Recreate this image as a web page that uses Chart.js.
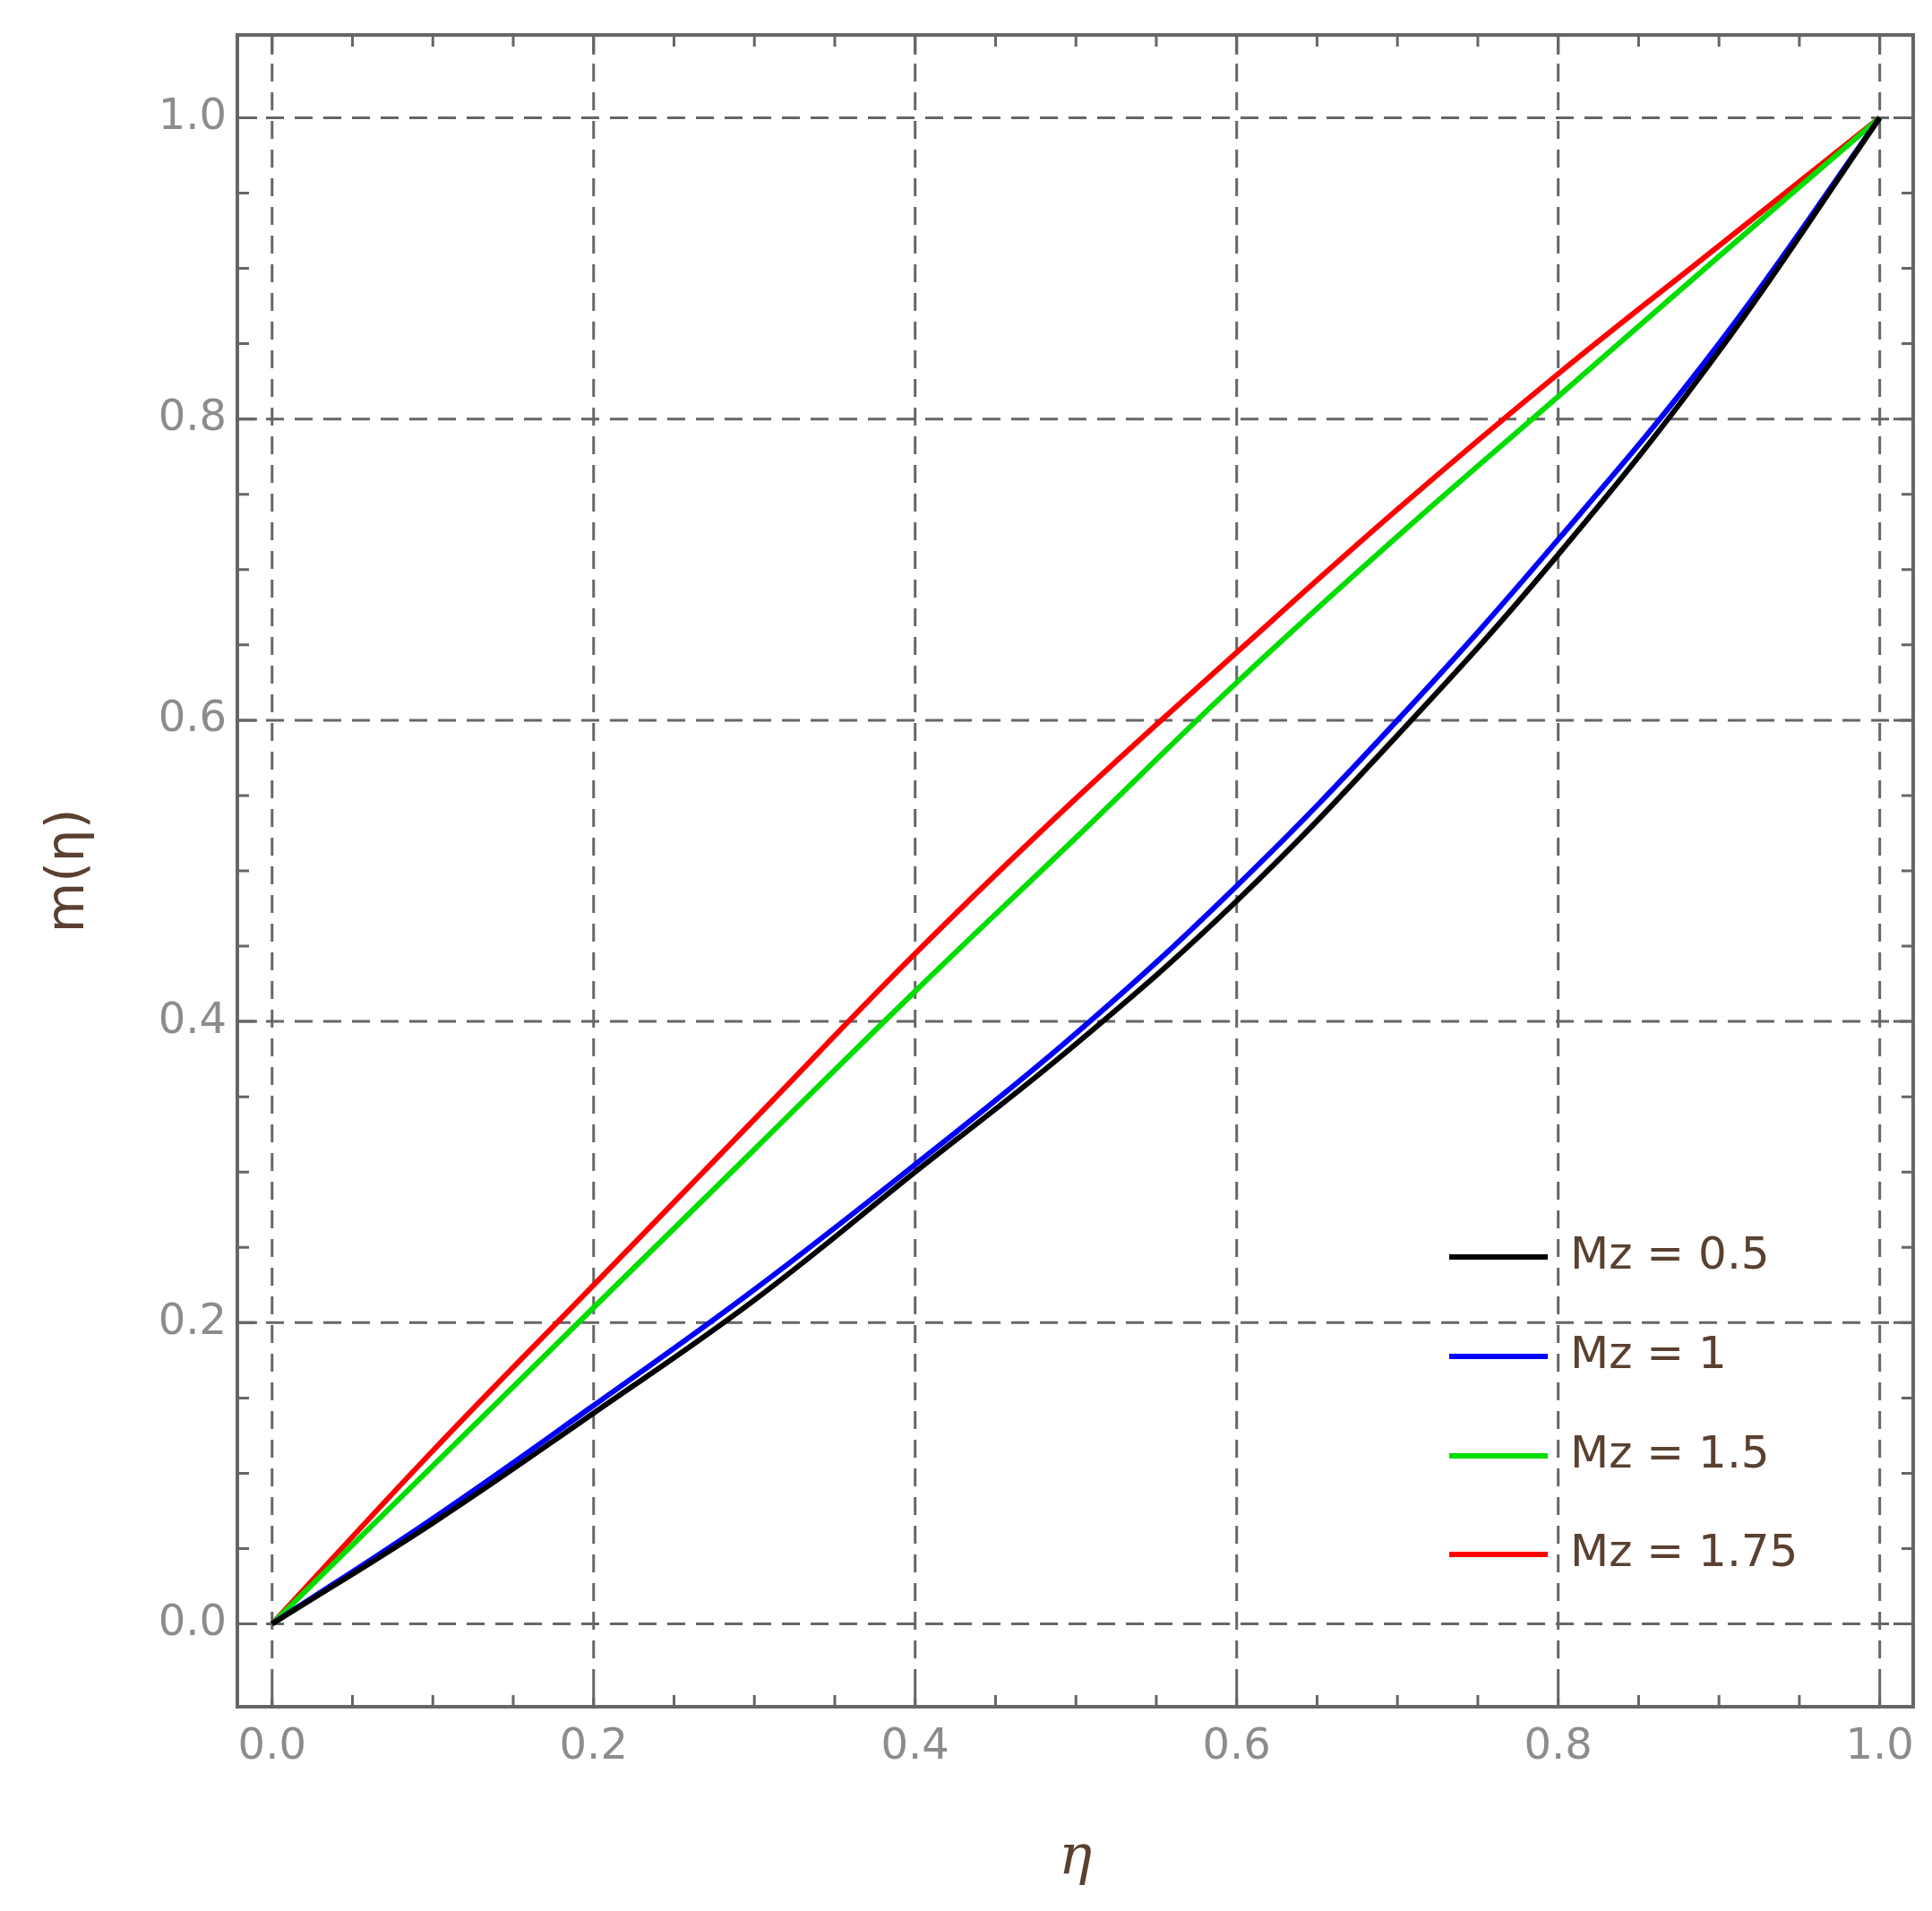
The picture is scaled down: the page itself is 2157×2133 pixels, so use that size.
<!DOCTYPE html>
<html><head><meta charset="utf-8">
<script src="https://cdn.jsdelivr.net/npm/chart.js@4"></script>
<style>html,body{margin:0;background:#fff}#c{display:block}</style>
</head><body>
<canvas id="c" width="2157" height="2133"></canvas>
<script>
const etaValues = [0,0.1,0.2,0.3,0.4,0.5,0.6,0.7,0.8,0.9,1.0];
const mz05 = [0,0.067,0.140,0.215,0.300,0.385,0.480,0.590,0.710,0.845,1.0];
const mz1  = [0,0.070,0.145,0.222,0.305,0.392,0.490,0.600,0.720,0.850,1.0];
const mz15 = [0,0.105,0.210,0.315,0.420,0.522,0.625,0.722,0.815,0.908,1.0];
const mz175= [0,0.115,0.225,0.335,0.445,0.548,0.645,0.740,0.830,0.915,1.0];
const seriesLabels = ['Mz = 0.5','Mz = 1','Mz = 1.5','Mz = 1.75'];
const seriesColors = ['#000000','#0000ff','#00dd00','#ff0000'];
const tickLabels = ['0.0','0.2','0.4','0.6','0.8','1.0'];
const tickValues = [0,0.2,0.4,0.6,0.8,1.0];

const all=[mz05,mz1,mz15,mz175];
const datasets = all.map((s,i)=>({label:seriesLabels[i],data:etaValues.map((x,j)=>({x,y:s[j]})),
  borderColor:seriesColors[i],borderWidth:6,pointRadius:0,tension:0.4,fill:false}));

const deco={id:'deco',
 beforeDatasetsDraw(ch){
  const c=ch.ctx,a=ch.chartArea,xs=ch.scales.x,ys=ch.scales.y;
  c.save();
  c.strokeStyle='#666';c.lineWidth=3;c.setLineDash([20,12]);
  tickValues.forEach(v=>{const px=xs.getPixelForValue(v);c.beginPath();c.moveTo(px,a.top);c.lineTo(px,a.bottom);c.stroke();
   const py=ys.getPixelForValue(v);c.beginPath();c.moveTo(a.left,py);c.lineTo(a.right,py);c.stroke();});
  c.setLineDash([]);
  for(let k=0;k<=20;k++){const v=k*0.05,len=(k%4===0)?22:13;
   const px=xs.getPixelForValue(v),py=ys.getPixelForValue(v);
   c.beginPath();c.moveTo(px,a.bottom);c.lineTo(px,a.bottom-len);c.moveTo(px,a.top);c.lineTo(px,a.top+len);
   c.moveTo(a.left,py);c.lineTo(a.left+len,py);c.moveTo(a.right,py);c.lineTo(a.right-len,py);c.stroke();}
  c.lineWidth=4;c.strokeRect(a.left,a.top,a.right-a.left,a.bottom-a.top);
  c.fillStyle='#8c8c8c';c.font='48px "DejaVu Sans"';
  c.textAlign='center';c.textBaseline='top';
  tickValues.forEach((v,i)=>c.fillText(tickLabels[i],xs.getPixelForValue(v),a.bottom+22));
  c.textAlign='right';c.textBaseline='middle';
  tickValues.forEach((v,i)=>c.fillText(tickLabels[i],a.left-12,ys.getPixelForValue(v)));
  c.fillStyle='#5a4030';c.font='italic 62px "DejaVu Serif"';c.textAlign='center';c.textBaseline='middle';
  c.fillText('η',(a.left+a.right)/2,2075);
  c.save();c.translate(78,(a.top+a.bottom)/2);c.rotate(-Math.PI/2);c.font='58px "DejaVu Sans"';c.fillText('m(η)',0,0);c.restore();
  c.restore();
 },
 afterDatasetsDraw(ch){
  const c=ch.ctx;c.save();
  const ys=[1403,1514,1625,1735];
  seriesLabels.forEach((l,i)=>{c.strokeStyle=seriesColors[i];c.lineWidth=6;c.beginPath();c.moveTo(1618,ys[i]);c.lineTo(1728,ys[i]);c.stroke();
   c.fillStyle='#5a4030';c.font='50px "DejaVu Sans"';c.textAlign='left';c.textBaseline='middle';c.fillText(l,1753,ys[i]);});
  c.restore();
 }};

new Chart(document.getElementById('c'),{type:'line',data:{datasets},
 options:{responsive:false,animation:false,
  layout:{padding:{left:265,right:21,top:39,bottom:228}},
  plugins:{legend:{display:false},tooltip:{enabled:false}},
  scales:{x:{type:'linear',min:-0.0216,max:1.0208,display:false},
          y:{type:'linear',min:-0.055,max:1.055,display:false}}},
 plugins:[deco]});
</script></body></html>
